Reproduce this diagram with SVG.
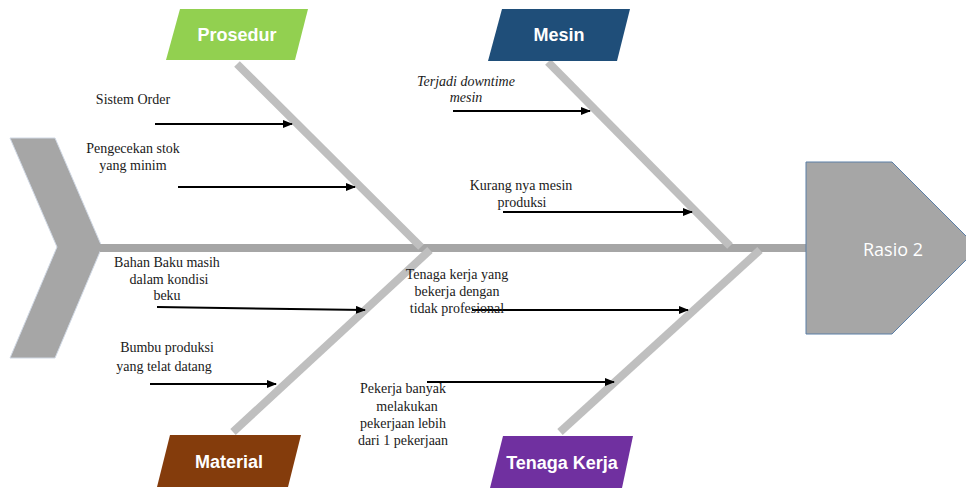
<svg xmlns="http://www.w3.org/2000/svg" width="966" height="490" viewBox="0 0 966 490">
<style>
.lbl{font-family:"Liberation Serif","Times New Roman",serif;font-size:14px;fill:#1a1a1a;text-anchor:middle}
.it{font-style:italic}
.cat{font-family:"Liberation Sans",Arial,sans-serif;font-weight:bold;font-size:18px;fill:#ffffff;text-anchor:middle}
.bone{stroke:#bfbfbf;stroke-width:8;fill:none}
.arr{stroke:#000;stroke-width:2;fill:none;marker-end:url(#ah)}
</style>
<defs>
<marker id="ah" viewBox="0 0 10 8" refX="9" refY="4" markerWidth="10" markerHeight="8" markerUnits="userSpaceOnUse" orient="auto">
<path d="M0,0 L10,4 L0,8 Z" fill="#000"/>
</marker>
</defs>
<rect width="966" height="490" fill="#ffffff"/>
<g id="tail">
<polygon points="10,138 55,138 102,247 55,358 10,358 57,247" fill="#a6a6a6" stroke="#d0d8e4" stroke-width="1"/>
</g>
<g id="spine">
<line x1="100" y1="248" x2="808" y2="248" stroke="#a6a6a6" stroke-width="8"/>
</g>
<g id="bones">
<line class="bone" x1="237" y1="64" x2="421" y2="247"/>
<line class="bone" x1="548" y1="62" x2="730" y2="246"/>
<line class="bone" x1="430" y1="250" x2="233" y2="432"/>
<line class="bone" x1="760" y1="250" x2="560" y2="432"/>
</g>
<g id="head">
<polygon points="806,162 892,162 978,248 892,334 806,334" fill="#a6a6a6" stroke="#5b7ea6" stroke-width="1"/>
<text x="893" y="256" font-family="'Open Sans','Liberation Sans',sans-serif" font-size="18" fill="#ffffff" text-anchor="middle">Rasio 2</text>
</g>
<g id="prosedur">
<polygon points="180,9 308,9 295,60 166,60" fill="#92d050"/>
<text class="cat" x="237" y="41">Prosedur</text>
</g>
<g id="mesin">
<polygon points="502,9 630,9 617,61 488,61" fill="#1f4e79"/>
<text class="cat" x="559" y="41">Mesin</text>
</g>
<g id="material">
<polygon points="170,435 301,435 288,487 157,487" fill="#843c0c"/>
<text class="cat" x="229" y="468">Material</text>
</g>
<g id="tenaga-kerja">
<polygon points="503,436 633,436 622,488 490,488" fill="#7030a0"/>
<text class="cat" x="562" y="469">Tenaga Kerja</text>
</g>
<g id="connectors">
<line class="arr" x1="155" y1="124" x2="292" y2="124"/>
<line class="arr" x1="178" y1="187" x2="355" y2="187"/>
<line class="arr" x1="453" y1="111" x2="590" y2="111"/>
<line class="arr" x1="503" y1="212" x2="692" y2="212"/>
<line class="arr" x1="157" y1="307" x2="365" y2="310"/>
<line class="arr" x1="150" y1="384" x2="276" y2="384"/>
<line class="arr" x1="472" y1="310" x2="688" y2="310"/>
<line class="arr" x1="427" y1="382" x2="614" y2="382"/>
</g>
<g id="cause-sistem-order"><text class="lbl" x="133" y="104">Sistem Order</text></g>
<g id="cause-pengecekan">
<text class="lbl" x="133" y="153">Pengecekan stok</text>
<text class="lbl" x="133" y="170">yang minim</text>
</g>
<g id="cause-downtime">
<text class="lbl it" x="466" y="86">Terjadi downtime</text>
<text class="lbl it" x="466" y="102">mesin</text>
</g>
<g id="cause-kurang-mesin">
<text class="lbl" x="521" y="190">Kurang nya mesin</text>
<text class="lbl" x="522" y="207">produksi</text>
</g>
<g id="cause-bahan-baku">
<text class="lbl" x="167" y="267">Bahan Baku masih</text>
<text class="lbl" x="169" y="284">dalam kondisi</text>
<text class="lbl" x="167" y="300">beku</text>
</g>
<g id="cause-bumbu">
<text class="lbl" x="167" y="352">Bumbu produksi</text>
<text class="lbl" x="164" y="371">yang telat datang</text>
</g>
<g id="cause-tenaga-kerja">
<text class="lbl" x="457" y="279">Tenaga kerja yang</text>
<text class="lbl" x="457" y="296">bekerja dengan</text>
<text class="lbl" x="457" y="313">tidak profesional</text>
</g>
<g id="cause-pekerja">
<text class="lbl" x="403" y="393">Pekerja banyak</text>
<text class="lbl" x="407" y="411">melakukan</text>
<text class="lbl" x="403" y="428">pekerjaan lebih</text>
<text class="lbl" x="403" y="445">dari 1 pekerjaan</text>
</g>
</svg>
